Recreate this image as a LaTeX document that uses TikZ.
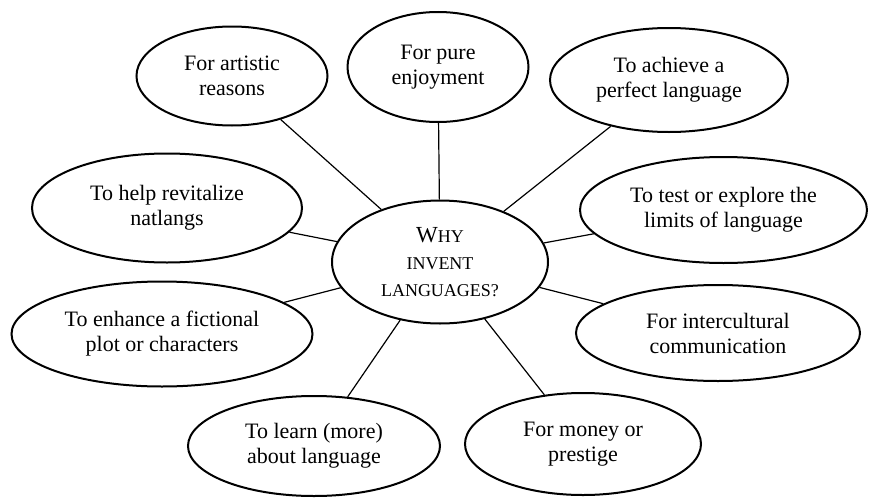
\documentclass[tikz,border=0pt]{standalone}
\usepackage{fontspec}
\setmainfont{Liberation Serif}
\usetikzlibrary{shapes.geometric}

\begin{document}
\begin{tikzpicture}[x=0.5pt, y=-0.5pt]
    % Define styles
    \tikzset{
        reason/.style={ellipse, draw, line width=1pt, inner sep=0pt, align=center,
            font=\fontsize{11}{12.5}\selectfont},
        hub/.style={ellipse, draw, line width=1pt, inner sep=0pt, align=center,
            font=\fontsize{9}{13.5}\selectfont},
        spoke/.style={line width=0.6pt}
    }

    % Fix the page size
    \useasboundingbox (0,0) rectangle (873,498);

    % Central question
    \node[hub, minimum width=108pt, minimum height=61.5pt] (why) at (440,262)
        {{\fontsize{11.5}{13.5}\selectfont W}HY\\INVENT\\LANGUAGES?};

    % Reasons around it
    \node[reason, minimum width=95.5pt, minimum height=49.5pt] (art) at (232,76)
        {For artistic\\reasons};
    \node[reason, minimum width=90.5pt, minimum height=55pt] (joy) at (438,67)
        {For pure\\enjoyment};
    \node[reason, minimum width=119pt, minimum height=52pt] (perfect) at (669,80)
        {To achieve a\\perfect language};
    \node[reason, minimum width=135pt, minimum height=54.5pt] (revive) at (167,208)
        {To help revitalize\\natlangs};
    \node[reason, minimum width=143.5pt, minimum height=53pt] (limits) at (723.5,210)
        {To test or explore the\\limits of language};
    \node[reason, minimum width=150.5pt, minimum height=52.5pt] (fiction) at (162,334)
        {To enhance a fictional\\plot or characters};
    \node[reason, minimum width=142pt, minimum height=48pt] (culture) at (718,333)
        {For intercultural\\communication};
    \node[reason, minimum width=126pt, minimum height=50pt] (learn) at (314,446)
        {To learn (more)\\about language};
    \node[reason, minimum width=118pt, minimum height=51pt] (money) at (583,444)
        {For money or\\prestige};

    % Connect every reason to the centre
    \foreach \r in {art,joy,perfect,revive,limits,fiction,culture,learn,money}
        \draw[spoke] (why) -- (\r);

\end{tikzpicture}
\end{document}
